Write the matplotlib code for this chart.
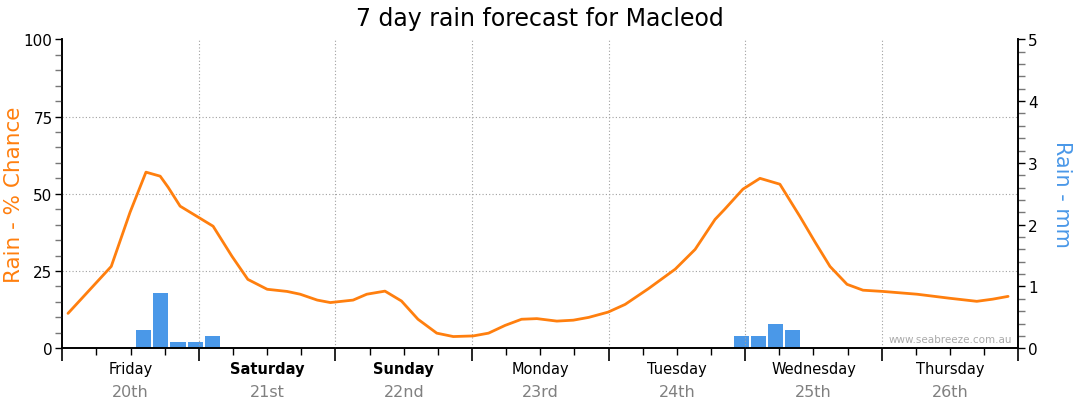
import numpy as np
import matplotlib
matplotlib.use("Agg")
import matplotlib.pyplot as plt
import matplotlib.transforms as mtransforms
from matplotlib.ticker import MultipleLocator

plt.rcParams['font.family'] = ['DejaVu Sans']

# rain chance (%) - hours from Friday 00:00
chance_hours = [1.0, 8.6, 11.9, 14.7, 17.2, 18.6, 20.7, 26.5, 29.8, 32.6, 36.0, 39.5,
                41.8, 44.8, 47.1, 51.1, 53.5, 56.7, 59.6, 62.5, 65.8, 68.7, 72.2, 74.9,
                77.8, 80.7, 83.4, 86.9, 89.8, 92.5, 95.9, 98.9, 103.0, 107.7, 111.2,
                114.7, 116.4, 119.6, 122.6, 126.1, 129.6, 132.3, 134.9, 137.9, 140.7,
                144.2, 150.2, 155.9, 160.7, 163.5, 166.2]
chance_pct = [11.3, 26.5, 44.0, 57.0, 55.7, 52.1, 46.0, 39.5, 29.8, 22.3, 19.1, 18.4,
              17.5, 15.6, 14.8, 15.6, 17.5, 18.5, 15.3, 9.4, 4.9, 3.8, 4.0, 4.9,
              7.4, 9.4, 9.6, 8.8, 9.1, 10.0, 11.7, 14.2, 19.3, 25.6, 32.0,
              41.7, 45.0, 51.5, 55.0, 53.1, 42.7, 34.3, 26.5, 20.7, 18.8,
              18.4, 17.5, 16.2, 15.2, 15.9, 16.8]

# rain amount (mm), 3-hour blocks starting at these hours
rain_start = [13, 16, 19, 22, 25, 118, 121, 124, 127]
rain_mm = [0.3, 0.9, 0.1, 0.1, 0.2, 0.2, 0.2, 0.4, 0.3]

days = ['Friday', 'Saturday', 'Sunday', 'Monday', 'Tuesday', 'Wednesday', 'Thursday']
dates = ['20th', '21st', '22nd', '23rd', '24th', '25th', '26th']
weekend = ['Saturday', 'Sunday']

orange = '#ff7f0e'
blue = '#4a98e8'

fig = plt.figure(figsize=(10.8, 4.14), dpi=100)
ax = fig.add_axes([0.0577, 0.1563, 0.8852, 0.7464])
ax2 = ax.twinx()

ax2.bar(rain_start, rain_mm, width=2.65, align='edge', color=blue, linewidth=0)
ax.plot(chance_hours, chance_pct, color=orange, linewidth=2.0, solid_capstyle='round')

ax.set_zorder(ax2.get_zorder() + 1)
ax.patch.set_visible(False)

ax.set_xlim(0, 168)
ax.set_ylim(0, 100)
ax2.set_ylim(0, 5)

ax.set_yticks([0, 25, 50, 75, 100])
ax.yaxis.set_minor_locator(MultipleLocator(5))
ax2.set_yticks([0, 1, 2, 3, 4, 5])
ax2.yaxis.set_minor_locator(MultipleLocator(0.2))

ax.set_xticks(np.arange(0, 169, 24))
ax.xaxis.set_minor_locator(MultipleLocator(6))
ax.set_xticklabels([])

ax.tick_params(axis='x', which='major', length=9, width=1.2, direction='out')
ax.tick_params(axis='x', which='minor', length=5, width=1.0, direction='out')
ax.tick_params(axis='y', which='major', length=5, width=1.0, labelsize=11, pad=2)
ax.tick_params(axis='y', which='minor', length=5, width=1.0, color='#777777')
ax2.tick_params(axis='y', which='major', length=5, width=1.0, labelsize=11, pad=2)
ax2.tick_params(axis='y', which='minor', length=5, width=1.0, color='#777777')

for a in (ax, ax2):
    a.spines['top'].set_visible(False)
    for s in ('left', 'right', 'bottom'):
        a.spines[s].set_linewidth(1.2)

# grid
for y in (25, 50, 75):
    ax.axhline(y, color='#a0a0a0', linewidth=0.8, linestyle=(0, (1, 2)), zorder=0)
for d in range(1, 7):
    ax.axvline(d * 24, color='#a0a0a0', linewidth=0.8, linestyle=(0, (1, 2)), zorder=0)

# day labels
trans = mtransforms.blended_transform_factory(ax.transData, ax.transAxes)
for i, (dn, dt) in enumerate(zip(days, dates)):
    xc = i * 24 + 12
    ax.text(xc, -0.065, dn, transform=trans, ha='center', va='center', fontsize=10.5,
            color='black', fontweight='bold' if dn in weekend else 'normal')
    ax.text(xc, -0.14, dt, transform=trans, ha='center', va='center', fontsize=11.5,
            color='#808080')

ax.set_ylabel('Rain - % Chance', color=orange, fontsize=15.5, va='center')
ax.yaxis.set_label_coords(-0.0505, 0.5)
ax2.set_ylabel('Rain - mm', color=blue, fontsize=15, rotation=270, va='center')
ax2.yaxis.set_label_coords(1.0457, 0.5)

fig.text(0.5, 0.955, '7 day rain forecast for Macleod', ha='center', va='center',
         fontsize=17)

ax.text(0.993, 0.03, 'www.seabreeze.com.au', transform=ax.transAxes, ha='right',
        va='center', fontsize=7.5, color='#aaaaaa')

fig.savefig('out.png', dpi=100)
